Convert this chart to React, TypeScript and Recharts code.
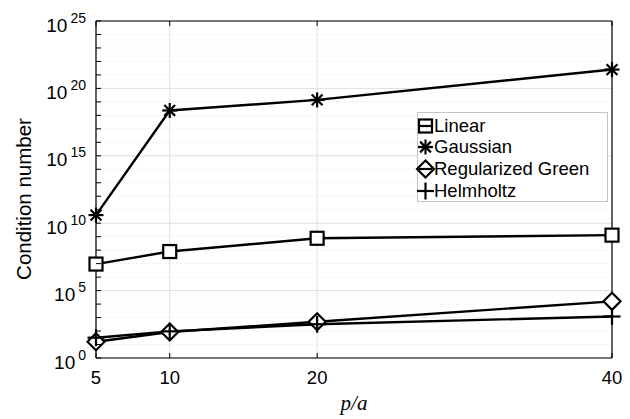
import React from 'react';
import { LineChart, Line, XAxis, YAxis, CartesianGrid } from 'recharts';

// ---- data ----
const xValues = [5, 10, 20, 40];
const linearCond = [9.3e6, 7.9e7, 7.6e8, 1.3e9];
const gaussianCond = [4.0e10, 2.3e18, 1.4e19, 2.5e21];
const greenCond = [16, 85, 490, 1.6e4];
const helmholtzCond = [32, 95, 320, 1.2e3];

const seriesNames = ['Linear', 'Gaussian', 'Regularized Green', 'Helmholtz'];
const seriesKeys = ['linear', 'gaussian', 'green', 'helmholtz'];
const seriesMarkers = ['square', 'star', 'diamond', 'plus'];

const xTicks = [5, 10, 20, 40];
const yTicks = [
  1, 1e1, 1e2, 1e3, 1e4, 1e5, 1e6, 1e7, 1e8, 1e9, 1e10, 1e11, 1e12, 1e13,
  1e14, 1e15, 1e16, 1e17, 1e18, 1e19, 1e20, 1e21, 1e22, 1e23, 1e24, 1e25,
];
const yMajorTicks = [1, 1e5, 1e10, 1e15, 1e20, 1e25];
const xLabel = 'p/a';
const yLabel = 'Condition number';

const data = xValues.map((x, i) => ({
  x,
  linear: linearCond[i],
  gaussian: gaussianCond[i],
  green: greenCond[i],
  helmholtz: helmholtzCond[i],
}));

const FONT = '"Liberation Sans", Arial, Helvetica, sans-serif';
const W = 630;
const H = 419;
// plot area: left 96, right 612, top 21, bottom 358
const LEFT_W = 60;
const RIGHT_W = 10;
const BOTTOM_H = 40;
const TOP_H = 6;
const MARGIN = { top: 21 - TOP_H, right: 18 - RIGHT_W, bottom: 61 - BOTTOM_H, left: 96 - LEFT_W };

function Marker({ kind, cx, cy, fill, sw = 2.2 }: any) {
  if (cx == null || cy == null) return null;
  if (kind === 'square') {
    const h = 6.5;
    return <rect x={cx - h} y={cy - h} width={2 * h} height={2 * h} fill={fill} stroke="#000" strokeWidth={sw} />;
  }
  if (kind === 'diamond') {
    const r = 8.5;
    return (
      <polygon
        points={`${cx},${cy - r} ${cx + r},${cy} ${cx},${cy + r} ${cx - r},${cy}`}
        fill={fill}
        stroke="#000"
        strokeWidth={sw}
      />
    );
  }
  if (kind === 'star') {
    const r = 7.5;
    const d = r * 0.72;
    return (
      <g stroke="#000" strokeWidth={sw}>
        <line x1={cx - r} y1={cy} x2={cx + r} y2={cy} />
        <line x1={cx} y1={cy - r} x2={cx} y2={cy + r} />
        <line x1={cx - d} y1={cy - d} x2={cx + d} y2={cy + d} />
        <line x1={cx - d} y1={cy + d} x2={cx + d} y2={cy - d} />
      </g>
    );
  }
  const r = 8.5;
  return (
    <g stroke="#000" strokeWidth={sw}>
      <line x1={cx - r} y1={cy} x2={cx + r} y2={cy} />
      <line x1={cx} y1={cy - r} x2={cx} y2={cy + r} />
    </g>
  );
}

const exponentOf = (v: number) => Math.round(Math.log10(v));

const LeftTick = (p: any) => {
  const { x, y, payload } = p;
  const e = exponentOf(payload.value);
  return (
    <g>
      <line x1={x} x2={x + 5} y1={y} y2={y} stroke="#000" strokeWidth={1} />
      {e % 5 === 0 && (
        <text x={x - 10} y={y + 10.5} textAnchor="end" fontFamily={FONT} fill="#000">
          <tspan fontSize={19}>10</tspan>
          <tspan fontSize={14} dx={3} dy={-9}>{e}</tspan>
        </text>
      )}
    </g>
  );
};

const RightTick = (p: any) => {
  const { x, y } = p;
  return <line x1={x - 5} x2={x} y1={y} y2={y} stroke="#000" strokeWidth={1} />;
};

const BottomTick = (p: any) => {
  const { x, y, payload } = p;
  return (
    <g>
      <line x1={x} x2={x} y1={y - 5} y2={y} stroke="#000" strokeWidth={1} />
      <text x={x} y={y + 26} textAnchor="middle" fontFamily={FONT} fontSize={18.5} fill="#000">
        {payload.value}
      </text>
    </g>
  );
};

const TopTick = (p: any) => {
  const { x, y } = p;
  return <line x1={x} x2={x} y1={y} y2={y + 5} stroke="#000" strokeWidth={1} />;
};

const majorGen = (props: any) => {
  const { yAxis, offset } = props || {};
  if (yAxis && typeof yAxis.scale === 'function') {
    return yMajorTicks.map((v) => yAxis.scale(v));
  }
  return yMajorTicks.map((v) => offset.top + offset.height * (1 - Math.log10(v) / 25));
};

function LegendBox() {
  return (
    <div
      style={{
        position: 'absolute',
        left: 417,
        top: 112,
        width: 191,
        height: 90,
        boxSizing: 'border-box',
        border: '1px solid #c4c4c4',
        background: '#fff',
        fontFamily: FONT,
        fontSize: 18.5,
        color: '#000',
      }}
    >
      {seriesNames.map((name, i) => (
        <div
          key={name}
          style={{
            position: 'absolute',
            left: 0,
            top: 1.5 + i * 21.7,
            height: 22,
            display: 'flex',
            alignItems: 'center',
            whiteSpace: 'nowrap',
          }}
        >
          <svg width={16} height={22} style={{ overflow: 'visible' }}>
            {seriesMarkers[i] !== 'plus' && (
              <line x1={1} x2={14} y1={11} y2={11} stroke="#000" strokeWidth={2.2} />
            )}
            <Marker kind={seriesMarkers[i]} cx={7.5} cy={11} fill="none" />
          </svg>
          <span style={{ lineHeight: '22px' }}>{name}</span>
        </div>
      ))}
    </div>
  );
}

export default function App() {
  return (
    <div style={{ position: 'absolute', left: 0, top: 0, width: W, height: H, background: '#fff' }}>
      <LineChart width={W} height={H} data={data} margin={MARGIN}>
        <CartesianGrid
          xAxisId="bottom"
          yAxisId="left"
          vertical={false}
          stroke="#eeeeee"
          strokeDasharray="2 2"
        />
        <CartesianGrid
          xAxisId="bottom"
          yAxisId="left"
          horizontalCoordinatesGenerator={majorGen}
          stroke="#e0e0e0"
        />
        <XAxis
          xAxisId="bottom"
          dataKey="x"
          type="number"
          domain={[5, 40]}
          ticks={xTicks}
          interval={0}
          height={BOTTOM_H}
          tickSize={0}
          tickMargin={0}
          tickLine={false}
          axisLine={{ stroke: '#000', strokeWidth: 1.2 }}
          tick={BottomTick}
        />
        <XAxis
          xAxisId="top"
          orientation="top"
          dataKey="x"
          type="number"
          domain={[5, 40]}
          ticks={xTicks}
          interval={0}
          height={TOP_H}
          tickSize={0}
          tickMargin={0}
          tickLine={false}
          axisLine={{ stroke: '#000', strokeWidth: 1.2 }}
          tick={TopTick}
        />
        <YAxis
          yAxisId="left"
          type="number"
          scale="log"
          domain={[1, 1e25]}
          ticks={yTicks}
          interval={0}
          width={LEFT_W}
          tickSize={0}
          tickMargin={0}
          tickLine={false}
          axisLine={{ stroke: '#000', strokeWidth: 1.2 }}
          tick={LeftTick}
        />
        <YAxis
          yAxisId="right"
          orientation="right"
          type="number"
          scale="log"
          domain={[1, 1e25]}
          ticks={yTicks}
          interval={0}
          width={RIGHT_W}
          tickSize={0}
          tickMargin={0}
          tickLine={false}
          axisLine={{ stroke: '#000', strokeWidth: 1.2 }}
          tick={RightTick}
        />
        {seriesKeys.map((k, i) => (
          <Line
            key={k}
            xAxisId="bottom"
            yAxisId="left"
            dataKey={k}
            name={seriesNames[i]}
            stroke="#000"
            strokeWidth={2.4}
            isAnimationActive={false}
            activeDot={false}
            dot={(p: any) => (
              <Marker key={`${k}-${p.index}`} kind={seriesMarkers[i]} cx={p.cx} cy={p.cy} fill="#fff" />
            )}
          />
        ))}
      </LineChart>
      <svg
        width={W}
        height={H}
        style={{ position: 'absolute', left: 0, top: 0, pointerEvents: 'none' }}
      >
        <text
          x={23}
          y={199}
          transform="rotate(-90 23 199)"
          textAnchor="middle"
          dominantBaseline="central"
          fontFamily={FONT}
          fontSize={20.5}
          fill="#000"
        >
          {yLabel}
        </text>
        <text
          x={354}
          y={410}
          textAnchor="middle"
          fontFamily='"Liberation Serif", "DejaVu Serif", serif'
          fontStyle="italic"
          fontSize={21}
          fill="#000"
        >
          {xLabel}
        </text>
      </svg>
      <LegendBox />
    </div>
  );
}
